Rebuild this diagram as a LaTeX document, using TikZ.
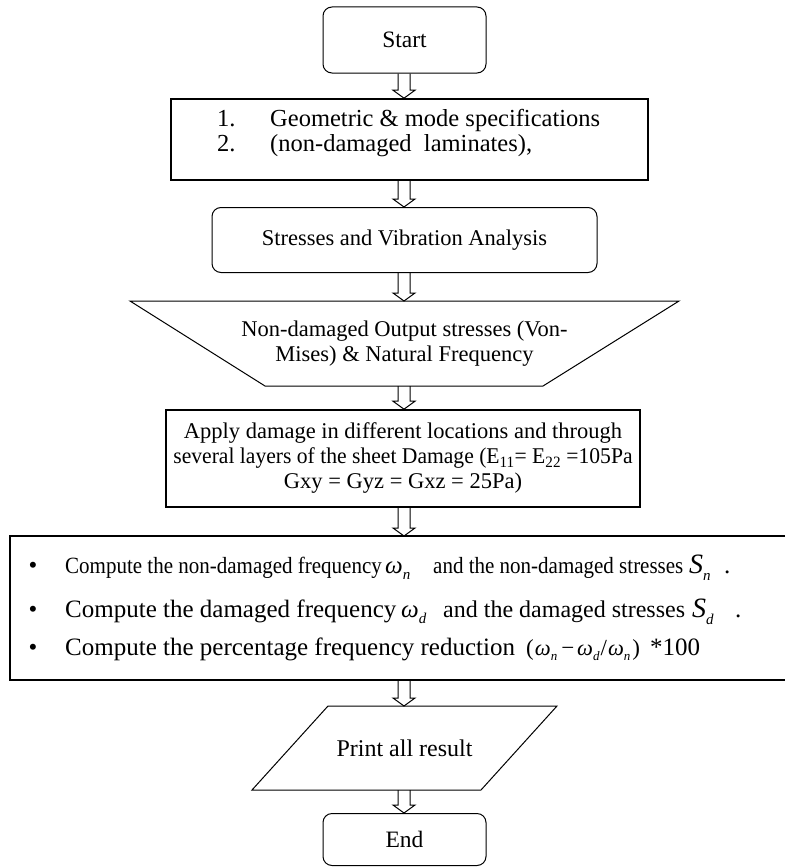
\documentclass[tikz,border=0pt]{standalone}
\usepackage{fontspec}
\setmainfont{Liberation Serif}
\usepackage{graphicx}
\usetikzlibrary{calc}
\newcommand\omsub[1]{{\fontsize{25}{25}\selectfont\itshape ω}\raisebox{-6pt}{\fontsize{15}{15}\selectfont\itshape #1}}
\newcommand\omsm[1]{{\fontsize{22.5}{22}\selectfont\itshape ω}\raisebox{-5pt}{\fontsize{13}{13}\selectfont\itshape #1}}
\newcommand\Ssub[1]{{\fontsize{28}{28}\selectfont\itshape S}\raisebox{-7pt}{\fontsize{15}{15}\selectfont\itshape #1}}
\newcommand\blkarrow[2]{\draw[blk] let \p1=(#1.south -| spine), \p2=(#2.north -| spine) in
  (\x1-6pt,\y1) -- (\x1-6pt,\y2+8pt) -- (\x1-11pt,\y2+8pt) -- (\x1,\y2) -- (\x1+11pt,\y2+8pt) -- (\x1+6pt,\y2+8pt) -- (\x1+6pt,\y1);}
\begin{document}
\begin{tikzpicture}[x=1pt,y=-1pt,
  base/.style={font=\fontsize{22.5}{25}\selectfont, inner sep=0pt, align=center},
  big/.style={font=\fontsize{25}{27}\selectfont},
  roundbox/.style={base, draw, line width=1pt, rounded corners=9pt},
  sqbox/.style={base, draw, line width=1.6pt},
  ghost/.style={base, draw=none, outer sep=0pt},
  seg/.style={base, big, anchor=base west},
  outline/.style={line width=1pt},
  thickline/.style={line width=1.6pt},
  blk/.style={line width=1pt}]
\useasboundingbox (0,0) rectangle (785,867);
\coordinate (spine) at (404,0);

% Start
\node[roundbox, minimum width=163pt, minimum height=66pt, font=\fontsize{23.5}{25}\selectfont] (start) at (404.5,40) {Start};

% Geometric box
\node[sqbox, minimum width=477pt, minimum height=81pt] (geo) at (409.5,139.5) {};
\node[seg, font=\fontsize{24.5}{25}\selectfont] (g1n) at (217,126) {1.};
\node[seg, font=\fontsize{24.5}{25}\selectfont] (g1t) at (270,126) {Geometric \& mode specifications};
\node[seg, font=\fontsize{24.5}{25}\selectfont] (g2n) at (217,151) {2.};
\node[seg, font=\fontsize{24.5}{25}\selectfont] (g2t) at (270,151) {(non-damaged\ \ laminates),};

% Stresses
\node[roundbox, minimum width=385pt, minimum height=65pt] (sva) at (404.5,240) {Stresses and Vibration Analysis};

% Trapezoid output
\node[ghost, minimum width=549pt, minimum height=85pt] (out) at (404.5,343.5) {Non-damaged Output stresses (Von-\\Mises) \& Natural Frequency};
\draw[outline] (out.north west) -- (out.north east) -- ($(out.south east)+(-136,0)$) -- ($(out.south west)+(135,0)$) -- cycle;

% Apply damage
\node[sqbox, minimum width=474pt, minimum height=97pt] (apply) at (403,458.5) {Apply damage in different locations and through\\\scalebox{0.96}[1]{several layers of the sheet Damage (E\textsubscript{11}= E\textsubscript{22} =105Pa}\\Gxy = Gyz = Gxz = 25Pa)};

% Compute box
\node[ghost, minimum width=775pt, minimum height=144pt] (comp) at (397.5,608) {};
\draw[thickline] (comp.north east) -- (comp.north west) -- (comp.south west) -- (comp.south east);
\node[seg, anchor=base] (b1) at (33,573) {•};
\node[seg, anchor=base] (b2) at (33,617) {•};
\node[seg, anchor=base] (b3) at (33,655) {•};
% line 1
\node[seg] (l1a) at (65,573) {\scalebox{0.84}[0.93]{Compute the non-damaged frequency}};
\node[seg] (l1b) at (385,573) {\omsub{n}};
\node[seg] (l1c) at (433,573) {\scalebox{0.84}[0.93]{and the non-damaged stresses}};
\node[seg] (l1d) at (689,573) {\Ssub{n}};
\node[seg] (l1e) at (724,573) {.};
% line 2
\node[seg] (l2a) at (65,617) {Compute the damaged frequency};
\node[seg] (l2b) at (401,617) {\omsub{d}};
\node[seg, font=\fontsize{24}{27}\selectfont] (l2c) at (443,617) {and the damaged stresses};
\node[seg] (l2d) at (692,617) {\Ssub{d}};
\node[seg] (l2e) at (735,617) {.};
% line 3
\node[seg] (l3a) at (65,655) {Compute the percentage frequency reduction};
\node[seg] (l3b) at (526,655) {{\fontsize{23}{23}\selectfont(\kern1pt\omsm{n}\kern4pt−\kern3pt\omsm{d}\kern1pt/\kern1pt\omsm{n}\kern2pt)}};
\node[seg] (l3c) at (650,655) {*100};

% Print
\node[ghost, minimum width=305pt, minimum height=84pt, font=\fontsize{24}{25}\selectfont] (prn) at (404.5,748) {Print all result};
\draw[outline] ($(prn.north west)+(76,0)$) -- (prn.north east) -- ($(prn.south east)+(-76,0)$) -- (prn.south west) -- cycle;

% End
\node[roundbox, minimum width=163pt, minimum height=52pt, font=\fontsize{23.5}{25}\selectfont] (end) at (404.5,839.5) {End};

% Arrows
\blkarrow{start}{geo}
\blkarrow{geo}{sva}
\blkarrow{sva}{out}
\blkarrow{out}{apply}
\blkarrow{apply}{comp}
\blkarrow{comp}{prn}
\blkarrow{prn}{end}
\end{tikzpicture}
\end{document}
